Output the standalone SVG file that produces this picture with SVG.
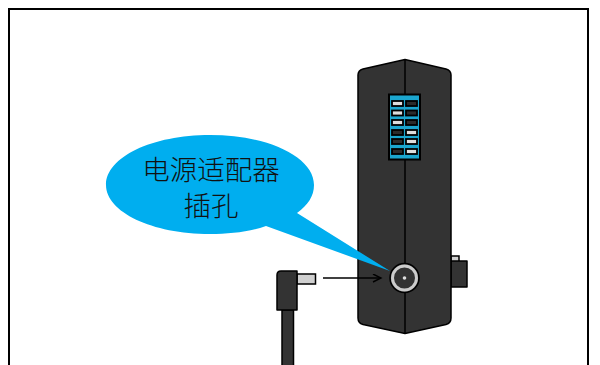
<svg xmlns="http://www.w3.org/2000/svg" width="600" height="365" viewBox="0 0 600 365">
<style>
.dk{fill:#333;stroke:#000;stroke-width:1.5;stroke-linejoin:round}
.lt{fill:#d0d0d0;stroke:#000;stroke-width:1.5}
.ledoff{fill:#2b2b2b;stroke:#000;stroke-width:1.8}
.ledon{fill:#ddd;stroke:#000;stroke-width:1.8}
.t{font-family:"Noto Sans CJK SC","Liberation Sans",sans-serif;font-size:27.5px;font-weight:300;fill:#111;text-anchor:middle}
</style>
<defs><marker id="arr" markerWidth="12" markerHeight="10" refX="9" refY="4" orient="auto" markerUnits="userSpaceOnUse"><path d="M1 0L9 4L1 8" fill="none" stroke="#000" stroke-width="1.400"/></marker></defs>
<rect id="frame" x="9" y="9" width="579" height="370" fill="#fff" stroke="#000" stroke-width="2"/>
<g id="device">
<rect class="lt" x="451" y="256" width="8" height="6"/>
<rect class="dk" x="451" y="261" width="16" height="26"/>
<path class="dk" d="M405 59.500L446 69Q451 70.500 451 75V318Q451 323 446 324.500L405 333.500L363 324.500Q358 323 358 318V75Q358 70.500 363 69Z"/>
<path d="M405 59.500V333.500" fill="none" stroke="#000" stroke-width="1.500"/>
</g>
<g id="vent">
<rect x="389" y="94.500" width="31" height="65" fill="#1ba6cf" stroke="#000" stroke-width="2"/>
<rect class="ledon" x="392" y="101" width="11" height="5"/><rect class="ledoff" x="406" y="101" width="11" height="5"/>
<rect class="ledon" x="392" y="110.500" width="11" height="5"/><rect class="ledoff" x="406" y="110.500" width="11" height="5"/>
<rect class="ledon" x="392" y="120" width="11" height="5"/><rect class="ledoff" x="406" y="120" width="11" height="5"/>
<rect class="ledoff" x="392" y="130" width="11" height="5"/><rect class="ledon" x="406" y="130" width="11" height="5"/>
<rect class="ledoff" x="392" y="139" width="11" height="5"/><rect class="ledon" x="406" y="139" width="11" height="5"/>
<rect class="ledoff" x="392" y="149" width="11" height="5"/><rect class="ledon" x="406" y="149" width="11" height="5"/>
</g>
<g id="jack">
<circle cx="404.500" cy="278" r="14.500" fill="#333" stroke="#000" stroke-width="1.500"/>
<circle cx="404.500" cy="278" r="12" fill="#333" stroke="#ccc" stroke-width="3"/>
<circle cx="404.500" cy="278" r="1.800" fill="#ddd"/>
</g>
<g id="plug">
<rect class="dk" x="282" y="310" width="11.500" height="60"/>
<rect class="lt" x="297" y="274" width="18.500" height="10"/>
<path class="dk" d="M277 310V275Q277 271 281 271H297V310Z"/>
</g>
<g id="connectors">
<path d="M323 278H381" fill="none" stroke="#000" stroke-width="1.400" marker-end="url(#arr)"/>
</g>
<g id="callout">
<path fill="#00aeef" d="M210 135C268 135 314 157 314 185C314 196 308 205 297 213L390 271L266 226C249 232 230 234 210 234C152 234 106 212 106 185C106 157 152 135 210 135Z"/>
<text class="t" x="211" y="180">电源适配器<tspan x="211" y="216">插孔</tspan></text>
</g>
</svg>
